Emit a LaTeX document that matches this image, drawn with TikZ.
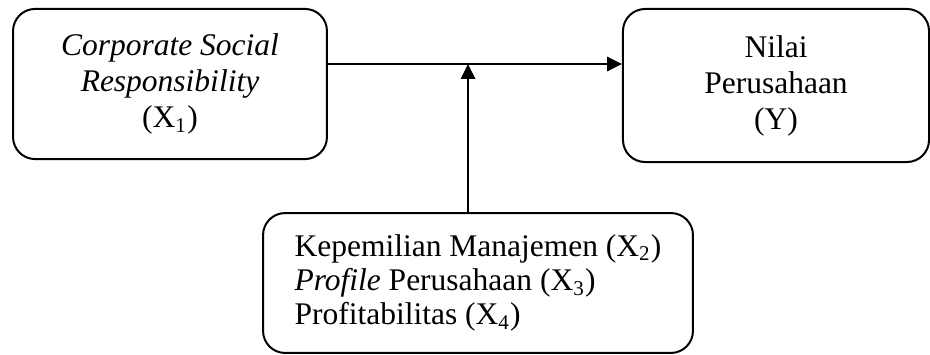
\documentclass[tikz,border=0pt]{standalone}
\usepackage{fontspec}
\setmainfont{Liberation Serif}
\usetikzlibrary{arrows.meta}

\begin{document}
\begin{tikzpicture}[x=0.381pt, y=-0.381pt, line width=0.76pt,
		varbox/.style={draw, rounded corners=8.4pt, align=center, inner sep=0pt, font=\fontsize{12}{13.7}\selectfont},
		arr/.style={-{Triangle[length=5.7pt, width=5.5pt]}}]
		\useasboundingbox (0,0) rectangle (930,354);
		% variabel
		\node[varbox, minimum width=119.6pt, minimum height=57.2pt] (csr) at (170,84) {\textit{Corporate Social}\\\textit{Responsibility}\\(X\textsubscript{1})};
		\node[varbox, minimum width=116.6pt, minimum height=58.3pt] (nilai) at (776,85.5) {Nilai\\Perusahaan\\(Y)};
		\node[varbox, align=left, minimum width=163.8pt, minimum height=53.3pt, font=\fontsize{12}{13.1}\selectfont] (moder) at (478,283) {Kepemilian Manajemen (X\textsubscript{2})\\\textit{Profile} Perusahaan (X\textsubscript{3})\\Profitabilitas (X\textsubscript{4})};
		% panah
		\coordinate (temu) at (468,64);
		\draw[arr] (csr.east |- temu) -- (nilai.west |- temu);
		\draw[arr] (moder.north -| temu) -- (temu);
	\end{tikzpicture}
\end{document}
